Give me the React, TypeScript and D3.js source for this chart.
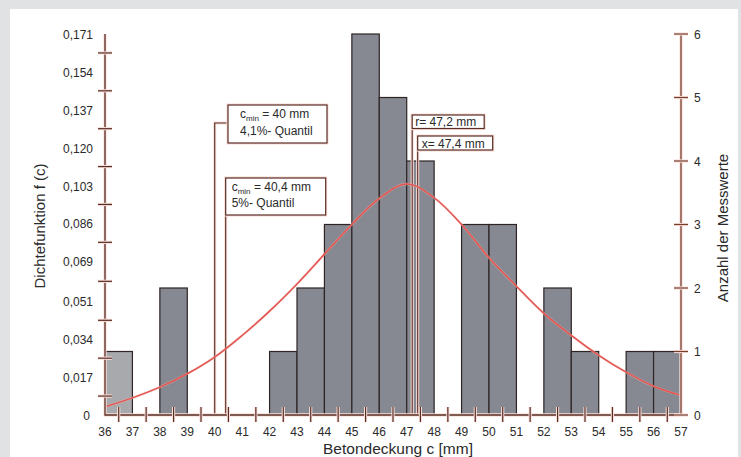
import React from "react";
import * as d3 from "d3";

// histogram: lower edge of each 1 mm class and number of readings in it
const binStarts = [36, 38, 42, 43, 44, 45, 46, 47, 49, 50, 52, 53, 55, 56];
const binCounts = [1, 2, 1, 2, 3, 6, 5, 4, 3, 3, 2, 1, 1, 1];

// fitted density curve
const curveC = [36, 37, 38, 39, 40, 41, 42, 43, 44, 45, 46, 47, 48, 49, 50, 51, 52, 53, 54, 55, 56, 57];
const curveF = [
  0.0037, 0.0077, 0.0125, 0.0185, 0.026, 0.0357, 0.0466, 0.0588, 0.0722, 0.0855, 0.0972,
  0.1037, 0.0975, 0.0855, 0.0706, 0.0578, 0.0456, 0.0357, 0.0268, 0.0192, 0.0129, 0.0088
];

const xLabels = ["36", "37", "38", "39", "40", "41", "42", "43", "44", "45", "46", "47", "48", "49", "50", "51", "52", "53", "54", "55", "56", "57"];
const densityLabels = ["0", "0,017", "0,034", "0,051", "0,069", "0,086", "0,103", "0,120", "0,137", "0,154", "0,171"];
const countLabels = ["0", "1", "2", "3", "4", "5", "6"];

const cMin1 = 40;
const cMin2 = 40.4;
const median = 47.2;
const mean = 47.4;

const width = 741;
const height = 457;
const margin = { left: 105, right: 60, top: 34, bottom: 42 };

const FONT = "'Liberation Sans', Arial, Helvetica, sans-serif";
const AXIS = "#5a2c24";
const HALO = "#f7e0da";
const TEXT = "#2a2a2a";

const num = (s: string) => +s.replace(",", ".");

function Halo({ d, color = AXIS, w = 1.3 }: { d: string; color?: string; w?: number }) {
  return (
    <g fill="none">
      <path d={d} stroke={HALO} strokeWidth={w + 2} />
      <path d={d} stroke={color} strokeWidth={w} />
    </g>
  );
}

export default function App() {
  const x0 = margin.left;
  const x1 = width - margin.right;
  const y0 = height - margin.bottom;
  const y1 = margin.top;

  const xScale = d3.scaleLinear().domain([36, 57]).range([x0, x1]);
  const yCount = d3.scaleLinear().domain([0, 6]).range([y0, y1]);
  const yDens = d3.scaleLinear().domain([0, 0.171]).range([y0, y1]);

  const line = d3
    .line<number>()
    .x((_, i) => xScale(curveC[i]))
    .y((d) => yDens(d))
    .curve(d3.curveCatmullRom.alpha(0.5));
  const curvePath = line(curveF) || "";

  const xTickVals = xLabels.slice(0, -1).map((l) => num(l) + 0.5);
  const densVals = densityLabels.map(num);
  const densTicks = densVals.slice(0, -1).map((v, i) => (v + densVals[i + 1]) / 2);

  const xr = xScale(median);
  const xm = xScale(mean);
  const xc1 = xScale(cMin1);
  const xc2 = xScale(cMin2);

  return (
    <svg
      width={width}
      height={height}
      style={{ position: "absolute", left: 0, top: 0, display: "block" }}
      fontFamily={FONT}
    >
      <rect x={0} y={0} width={width} height={height} fill="#e1e2e4" />
      <rect x={10} y={9} width={728} height={height - 9} fill="#ffffff" />

      {/* bars */}
      <g>
        {binStarts.map((s, i) => (
          <rect
            key={i}
            x={xScale(s)}
            y={yCount(binCounts[i])}
            width={xScale(s + 1) - xScale(s)}
            height={y0 - yCount(binCounts[i])}
            fill={i === 0 ? "#a8a9ad" : "#868992"}
            stroke="#2f2423"
            strokeWidth={1.2}
          />
        ))}
      </g>

      {/* quantile and mean/median markers */}
      <Halo d={`M${xc1},${y0}V123H228`} w={1.1} />
      <Halo d={`M${xc2},${y0}V215`} w={1.1} />
      <Halo d={`M${xr},${y0}V115`} w={1.1} />
      <Halo d={`M${xm},${y0}V136`} w={1.1} />

      {/* density curve */}
      <path d={curvePath} fill="none" stroke="#f3b8b2" strokeWidth={2.4} opacity={0.6} />
      <path d={curvePath} fill="none" stroke="#e2544f" strokeWidth={1.5} />

      {/* annotation boxes */}
      <g fontSize={12} fill={TEXT}>
        <rect x={228} y={105} width={99} height={38} fill="#fff" stroke={HALO} strokeWidth={3.2} />
        <rect x={228} y={105} width={99} height={38} fill="#fff" stroke={AXIS} strokeWidth={1.2} />
        <text x={240} y={118}>
          c<tspan fontSize={8} dy={3}>min</tspan>
          <tspan dy={-3}> = 40 mm</tspan>
        </text>
        <text x={240} y={135}>4,1%- Quantil</text>

        <rect x={xc2} y={178} width={100} height={37} fill="#fff" stroke={HALO} strokeWidth={3.2} />
        <rect x={xc2} y={178} width={100} height={37} fill="#fff" stroke={AXIS} strokeWidth={1.2} />
        <text x={xc2 + 6} y={191}>
          c<tspan fontSize={8} dy={3}>min</tspan>
          <tspan dy={-3}> = 40,4 mm</tspan>
        </text>
        <text x={xc2 + 6} y={207}>5%- Quantil</text>

        <rect x={xr} y={115} width={72} height={13.5} fill="#fff" stroke={HALO} strokeWidth={3.2} />
        <rect x={xr} y={115} width={72} height={13.5} fill="#fff" stroke={AXIS} strokeWidth={1.2} />
        <text x={xr + 3} y={126}>r= 47,2 mm</text>

        <rect x={xm} y={136} width={75} height={14} fill="#fff" stroke={HALO} strokeWidth={3.2} />
        <rect x={xm} y={136} width={75} height={14} fill="#fff" stroke={AXIS} strokeWidth={1.2} />
        <text x={xm + 4} y={147.5}>x= 47,4 mm</text>
      </g>

      {/* axes */}
      <Halo d={`M${x0},${y1}V${y0}H${x1}`} />
      <Halo d={`M${x1},${y1}V${y0}`} color="#7a3e31" />

      {/* x ticks between class labels */}
      {xTickVals.map((v, i) => (
        <Halo key={i} d={`M${xScale(v)},${y0 - 8}V${y0 + 7}`} w={1.2} />
      ))}
      {/* left ticks halfway between labels */}
      {densTicks.map((v, i) => (
        <Halo key={i} d={`M${x0 - 7},${yDens(v)}H${x0 + 7}`} w={1.2} />
      ))}
      {/* right ticks */}
      {countLabels.map((l, i) => (
        <Halo key={i} d={`M${x1 - 7},${yCount(num(l))}H${x1 + 7}`} w={1.2} color="#7a3e31" />
      ))}

      <g fontSize={12} fill={TEXT}>
        {xLabels.map((l) => (
          <text key={l} x={xScale(num(l))} y={436} textAnchor="middle">
            {l}
          </text>
        ))}
        {densityLabels.map((l) => (
          <text key={l} x={l === "0" ? 90 : 93} y={yDens(num(l)) + 5} textAnchor="end">
            {l}
          </text>
        ))}
        {countLabels.map((l) => (
          <text key={l} x={694} y={yCount(num(l)) + 4.5}>
            {l}
          </text>
        ))}
      </g>

      <g fontSize={15} fill={TEXT}>
        <text x={398} y={454} textAnchor="middle" fontSize={15.5}>
          Betondeckung c [mm]
        </text>
        <text transform="translate(45,226) rotate(-90)" textAnchor="middle">
          Dichtefunktion f (c)
        </text>
        <text transform="translate(728,228) rotate(-90)" textAnchor="middle">
          Anzahl der Messwerte
        </text>
      </g>
    </svg>
  );
}
